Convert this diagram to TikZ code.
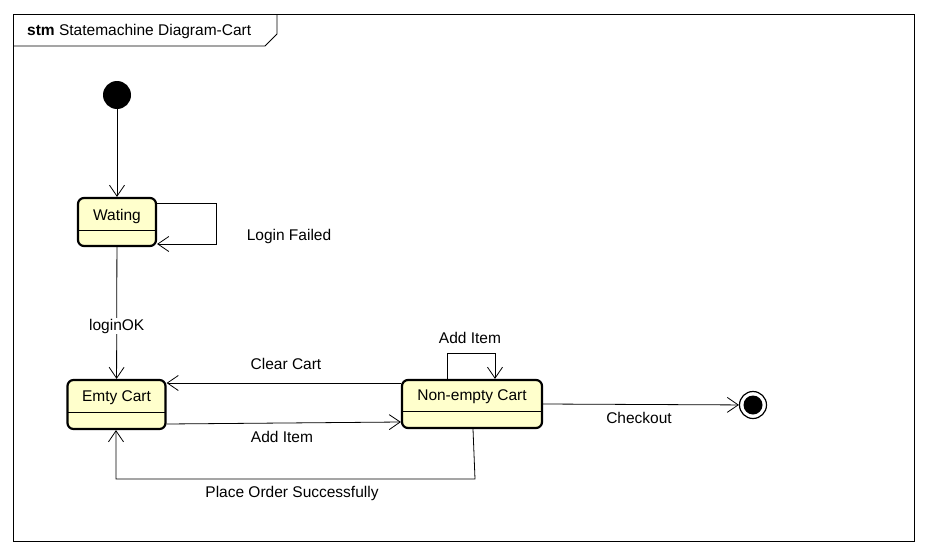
\documentclass[tikz,border=0pt]{standalone}
\usepackage{fontspec}
\setmainfont{Liberation Sans}
\usetikzlibrary{arrows.meta,calc}
\definecolor{stfill}{HTML}{FFFFCC}
\tikzset{
  statebox/.style={draw=black, line width=2.2pt, fill=stfill, rounded corners=6pt, minimum width=#1, inner sep=0pt},
  conn/.style={draw=black, line width=0.8pt, -{Straight Barb[length=11pt,width=15pt,line width=0.8pt]}},
  lbl/.style={font=\fontsize{15.5}{18}\selectfont, inner sep=1pt},
}
\begin{document}
\begin{tikzpicture}[x=1pt,y=-1pt]
\useasboundingbox (0,0) rectangle (928,554);
% frame
\draw[line width=0.8pt] (13,14) rectangle (914,541);
\draw[line width=0.8pt] (13,46) -- (265,46) -- (277,34) -- (277,14);
\node[lbl, anchor=west] (title) at (26,31) {\textbf{stm} Statemachine Diagram-Cart};
% initial and final
\node[circle, fill=black, minimum size=28pt, inner sep=0pt] (init) at (117,95) {};
\node[circle, draw=black, line width=1.2pt, fill=white, minimum size=27pt, inner sep=0pt] (final) at (753,405) {};
\node[circle, fill=black, minimum size=19pt, inner sep=0pt] (finalin) at (753,405) {};
% states
\node[statebox=78pt, minimum height=48pt] (wait) at (117,222) {};
\node[lbl] at (117,216) {Wating};
\draw[line width=0.8pt] (78,230) -- (156,230);
\node[statebox=98pt, minimum height=49pt] (empty) at (116.5,404.5) {};
\node[lbl] at (116.5,398) {Emty Cart};
\draw[line width=0.8pt] (67.5,412) -- (165.5,412);
\node[statebox=140pt, minimum height=48pt] (ne) at (472,404) {};
\node[lbl] at (472,397) {Non-empty Cart};
\draw[line width=0.8pt] (402,411) -- (542,411);
% coordinates
\coordinate (w1) at (216,203);
\coordinate (w2) at (216,244);
\coordinate (a1) at (447,353);
\coordinate (a2) at (495,353);
\coordinate (p1) at (475,479);
\coordinate (p2) at (116,479);
% connectors
\draw[conn] (init) -- (wait);
\draw[conn] (wait.east |- 0,203) -- (w1) -- (w2) -- (wait.east |- 0,244);
\draw[conn] (wait) -- node[lbl, pos=0.6, fill=white] {loginOK} (empty);
\draw[conn] (ne.west |- 0,383) -- (empty.east |- 0,383);
\draw[conn] (empty.east |- 0,424) -- (ne.west |- 0,422);
\draw[conn] (ne.north -| a1) -- (a1) -- (a2) -- (ne.north -| a2);
\draw[conn] (ne.south -| 473,0) -- (p1) -- (p2) -- (empty.south -| p2);
\draw[conn] (ne.east) -- (final);
% labels
\node[lbl] (l1) at (289,236) {Login Failed};
\node[lbl] (l2) at (286,364) {Clear Cart};
\node[lbl] (l3) at (282,437) {Add Item};
\node[lbl] (l4) at (470,338) {Add Item};
\node[lbl] (l5) at (292,493) {Place Order Successfully};
\node[lbl] (l6) at (639,418) {Checkout};
\end{tikzpicture}
\end{document}
